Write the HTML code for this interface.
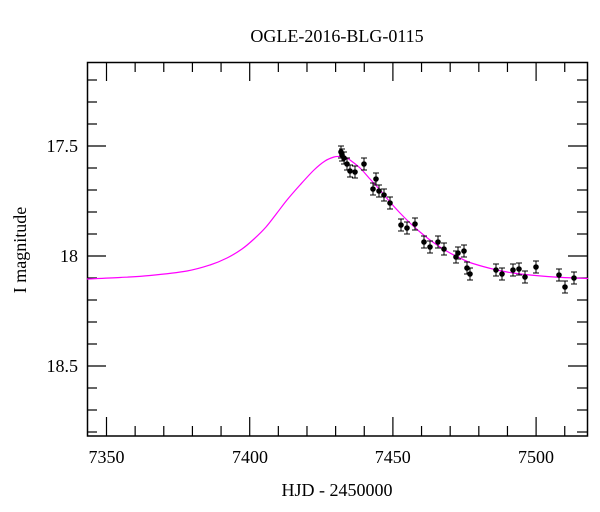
<!DOCTYPE html>
<html><head><style>html,body{margin:0;padding:0;background:#fff}svg{display:block}text{font-family:"Liberation Serif",serif;fill:#000}</style></head>
<body>
<svg width="600" height="512" xmlns="http://www.w3.org/2000/svg">
<text x="337" y="42" font-size="18" text-anchor="middle">OGLE-2016-BLG-0115</text>
<text x="337" y="496" font-size="18" text-anchor="middle">HJD - 2450000</text>
<text transform="translate(26,250) rotate(-90)" font-size="18" text-anchor="middle">I magnitude</text>
<g font-size="18" text-anchor="middle">
<text x="106.5" y="463">7350</text><text x="250" y="463">7400</text><text x="392.7" y="463">7450</text><text x="536" y="463">7500</text>
</g>
<g font-size="18" text-anchor="end">
<text x="78" y="152">17.5</text><text x="78" y="262">18</text><text x="78" y="372">18.5</text>
</g>
<g id="ticks" stroke="#000" stroke-width="1.2"></g>
<rect x="87.5" y="62.5" width="500" height="373.5" fill="none" stroke="#000" stroke-width="1.5"/>
<path id="curve" fill="none" stroke="#ff00ff" stroke-width="1.2" d=""/>
<g id="pts"></g>
</svg>
<script>
const t=document.getElementById('ticks');let s='';
const X=d=>106.5+(d-7350)*2.864;
for(let d=7350;d<=7510;d+=10){const x=X(d);const L=d%50==0?19:10;s+=`<line x1="${x}" y1="436" x2="${x}" y2="${436-L}"/><line x1="${x}" y1="62" x2="${x}" y2="${62+L}"/>`;}
for(let k=-3;k<=13;k++){const y=146+k*22;if(y<63||y>435)continue;const L=k%5==0?19:10;s+=`<line x1="87" y1="${y}" x2="${87+L}" y2="${y}"/><line x1="587" y1="${y}" x2="${587-L}" y2="${y}"/>`;}
t.innerHTML=s;
const C=[[87,279],[120,277.5],[150,275.5],[187,271],[210,265],[227,258],[242,249],[254,239],[266,227],[277,213],[287,200],[300,185],[314,170],[325,161],[334,157],[340,156.5],[346,157.5],[350,160],[360,168],[370,179],[380,190],[390,202],[400,213],[410,223],[420,232],[430,240],[440,247],[450,253],[460,258],[470,262.5],[483,266.5],[497,270],[513,273],[530,275],[547,276.5],[563,277.5],[575,278],[588,278.5]];
let d=`M${C[0][0]},${C[0][1]}`;
for(let i=0;i<C.length-1;i++){const p0=C[Math.max(i-1,0)],p1=C[i],p2=C[i+1],p3=C[Math.min(i+2,C.length-1)];
d+=` C${p1[0]+(p2[0]-p0[0])/6},${p1[1]+(p2[1]-p0[1])/6} ${p2[0]-(p3[0]-p1[0])/6},${p2[1]-(p3[1]-p1[1])/6} ${p2[0]},${p2[1]}`;}
document.getElementById('curve').setAttribute('d',d);
const P=[[341,152],[342,155],[344,158],[347,164],[350,171],[355,172],[364,164],[376,179],[373,189],[379,191],[384,195],[390,203],[401,225],[407,228],[415,224],[424,242],[430,247],[438,242],[444,249],[456,257],[458,253],[464,251],[467,268],[470,274],[496,270],[502,274],[513,270],[519,269],[525,277],[536,267],[559,275],[565,287],[574,278]];
let q='';for(const [x,y] of P){q+=`<line x1="${x}" y1="${y-6}" x2="${x}" y2="${y+6}" stroke="#000"/><line x1="${x-3}" y1="${y-6}" x2="${x+3}" y2="${y-6}" stroke="#000"/><line x1="${x-3}" y1="${y+6}" x2="${x+3}" y2="${y+6}" stroke="#000"/><circle cx="${x}" cy="${y}" r="2.8" fill="#000"/>`;}
document.getElementById('pts').innerHTML=q;
</script>
</body></html>
